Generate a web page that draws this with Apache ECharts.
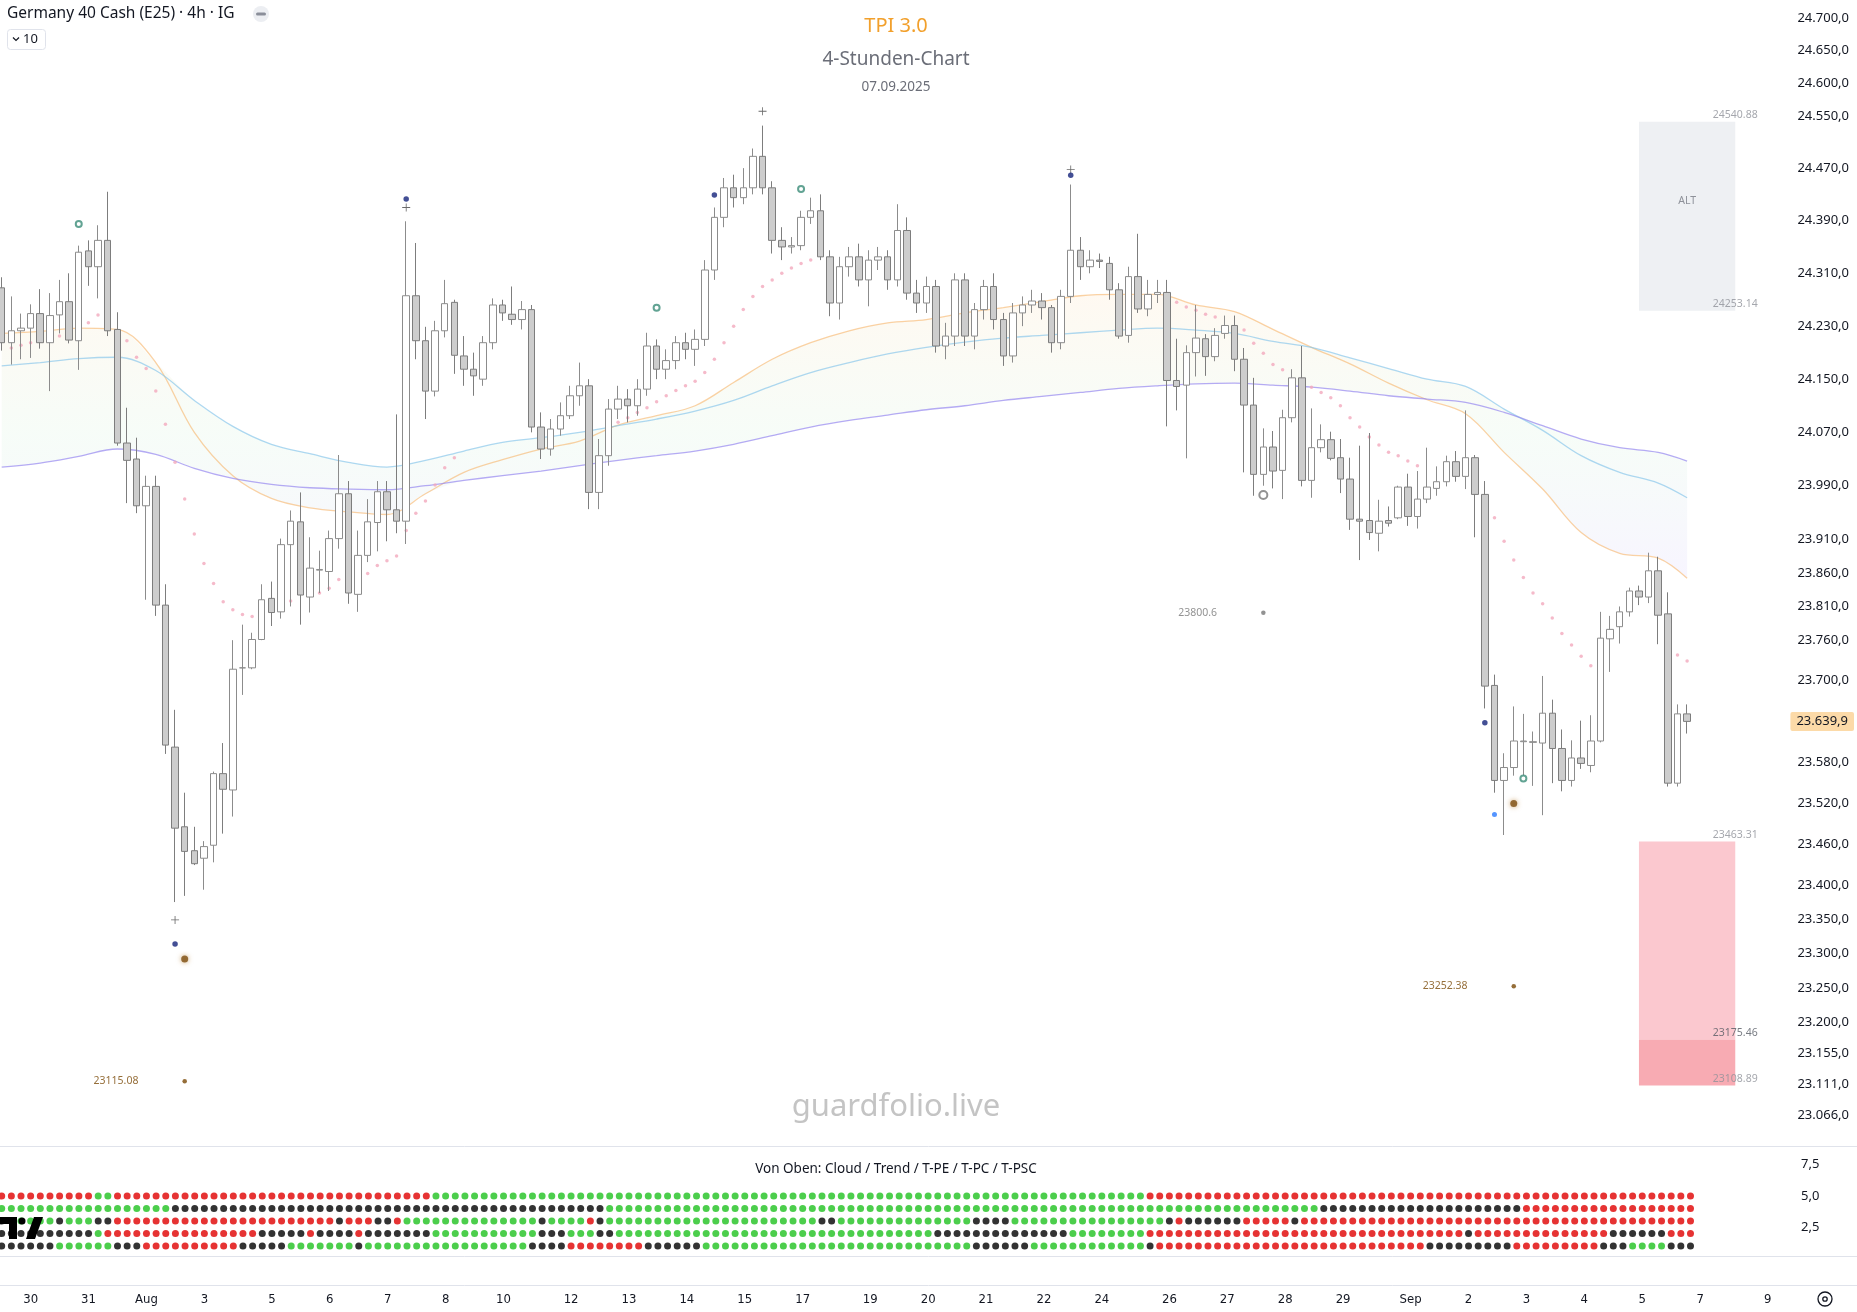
<!DOCTYPE html>
<html><head><meta charset="utf-8">
<script src="https://cdn.jsdelivr.net/npm/echarts@6/dist/echarts.min.js"></script>
<style>html,body{margin:0;padding:0;background:#fff}#c{width:1857px;height:1312px}</style>
</head><body><div id="c"></div>
<script>
// ---------- DATA ----------
const dayTicks = [[3,'30'],[9,'31'],[15,'Aug'],[21,'3'],[28,'5'],[34,'6'],[40,'7'],[46,'8'],[52,'10'],[59,'12'],[65,'13'],[71,'14'],[77,'15'],[83,'17'],[90,'19'],[96,'20'],[102,'21'],[108,'22'],[114,'24'],[121,'26'],[127,'27'],[133,'28'],[139,'29'],[146,'Sep'],[152,'2'],[158,'3'],[164,'4'],[170,'5'],[176,'7'],[183,'9']];
const barCount = 186;
// candles [open, high, low, close]
const candles = [
[24288,24304,24193,24205],[24205,24275,24172,24223],[24223,24249,24180,24227],[24227,24263,24182,24249],[24249,24286,24196,24205],
[24205,24280,24132,24246],[24247,24300,24219,24267],[24267,24310,24204,24209],[24208,24352,24164,24342],[24344,24360,24291,24320],
[24320,24383,24272,24360],[24360,24434,24215,24223],[24225,24251,24050,24054],[24054,24107,23964,24028],[24030,24062,23949,23960],
[23960,24005,23820,23989],[23989,24005,23796,23812],[23812,23843,23592,23605],[23602,23657,23375,23483],[23485,23535,23384,23449],
[23450,23485,23429,23431],[23439,23464,23393,23456],[23458,23566,23433,23563],[23563,23608,23475,23540],[23539,23760,23500,23717],
[23719,23783,23679,23719],[23719,23771,23717,23761],[23761,23843,23760,23820],[23822,23847,23781,23801],[23802,23911,23792,23902],
[23902,23953,23810,23937],[23936,23980,23783,23827],[23824,23913,23801,23867],[23864,23893,23830,23865],[23862,23923,23833,23911],
[23911,24036,23896,23978],[23978,23997,23814,23830],[23828,23923,23802,23886],[23886,23970,23876,23936],[23935,23997,23892,23981],
[23981,23997,23907,23954],[23954,24097,23919,23937],[23937,24389,23903,24276],[24276,24356,24180,24208],[24208,24229,24090,24132],
[24132,24238,24124,24223],[24223,24300,24213,24264],[24266,24270,24158,24186],[24185,24215,24140,24165],[24165,24190,24125,24155],
[24150,24215,24140,24205],[24205,24272,24195,24262],[24262,24270,24238,24250],[24248,24290,24232,24240],[24240,24268,24225,24255],
[24255,24262,24070,24078],[24078,24100,24030,24045],[24045,24090,24035,24075],[24075,24115,24065,24095],[24095,24140,24090,24125],
[24125,24175,24110,24140],[24140,24150,23955,23980],[23980,24060,23955,24035],[24035,24120,24020,24105],[24105,24140,24090,24120],
[24120,24135,24085,24110],[24110,24150,24095,24135],[24135,24220,24125,24200],[24200,24210,24150,24165],[24165,24195,24150,24178],
[24178,24215,24165,24205],[24205,24220,24180,24195],[24195,24225,24170,24210],[24210,24330,24200,24315],[24315,24410,24300,24395],
[24395,24455,24380,24440],[24440,24460,24410,24425],[24425,24470,24415,24440],[24440,24500,24430,24488],[24488,24535,24430,24440],
[24440,24450,24340,24360],[24360,24380,24330,24350],[24350,24365,24340,24352],[24352,24405,24345,24395],[24395,24425,24385,24405],
[24405,24430,24330,24335],[24335,24345,24245,24265],[24265,24335,24240,24320],[24320,24350,24305,24335],[24335,24355,24290,24300],
[24300,24345,24260,24330],[24330,24350,24315,24335],[24335,24345,24285,24300],[24300,24415,24290,24375],[24375,24395,24270,24280],
[24280,24300,24250,24265],[24265,24305,24250,24290],[24290,24300,24190,24200],[24200,24235,24180,24215],[24215,24310,24200,24300],
[24300,24310,24200,24215],[24215,24265,24195,24255],[24255,24300,24240,24290],[24290,24310,24225,24240],[24240,24250,24170,24185],
[24185,24265,24175,24250],[24250,24275,24230,24262],[24262,24285,24250,24268],[24268,24280,24240,24258],[24258,24262,24190,24205],
[24205,24285,24195,24275],[24275,24445,24265,24345],[24345,24365,24300,24320],[24320,24345,24310,24330],[24330,24340,24318,24328],
[24325,24335,24270,24285],[24285,24295,24211,24215],[24216,24320,24205,24305],[24305,24370,24250,24256],[24256,24300,24245,24278],
[24278,24300,24265,24281],[24281,24300,24079,24148],[24148,24211,24103,24139],[24141,24201,24031,24190],[24190,24262,24154,24212],
[24211,24218,24155,24184],[24184,24227,24177,24216],[24219,24246,24211,24231],[24231,24246,24162,24180],[24180,24197,24010,24111],
[24111,24152,23975,24007],[24007,24076,23990,24048],[24048,24072,23986,24012],[24013,24104,23970,24092],[24092,24165,24085,24152],
[24152,24200,23989,23998],[23998,24106,23972,24047],[24047,24082,24040,24059],[24059,24071,24028,24031],[24032,24060,23979,24000],
[24000,24032,23924,23940],[23940,24050,23879,23937],[23938,24069,23909,23920],[23919,23969,23892,23937],[23938,23959,23929,23934],
[23942,23990,23940,23988],[23988,24008,23930,23944],[23944,24012,23926,23970],[23970,24047,23964,23988],[23986,24019,23975,23996],
[23996,24035,23989,24026],[24026,24042,23996,24004],[24004,24103,23985,24032],[24032,24036,23913,23977],[23977,23997,23659,23692],
[23693,23709,23535,23553],[23553,23593,23473,23572],[23572,23662,23560,23611],[23610,23651,23560,23611],[23609,23625,23545,23610],
[23608,23707,23502,23652],[23652,23672,23549,23600],[23600,23628,23537,23553],[23553,23612,23544,23586],[23586,23641,23570,23578],
[23575,23649,23565,23611],[23611,23802,23609,23763],[23762,23796,23713,23776],[23780,23810,23755,23802],[23802,23838,23795,23833],
[23833,23841,23812,23824],[23824,23890,23815,23863],[23863,23884,23754,23797],[23799,23831,23544,23549],[23549,23665,23544,23651],
[23651,23665,23622,23639.9]
];
const lastPrice = 23639.9;
const priceTicks = [24700,24650,24600,24550,24470,24390,24310,24230,24150,24070,23990,23910,23860,23810,23760,23700,23580,23520,23460,23400,23350,23300,23250,23200,23155,23111,23066];
const priceTop = 24728, priceBottom = 23022;
const maIdx = [0,4,8,12,16,20,24,28,32,36,40,44,48,52,56,60,64,68,72,76,80,84,88,92,96,100,104,108,112,116,120,124,128,132,136,140,144,148,152,156,160,164,168,172,175];
const maFast = [24219,24222,24227,24225,24175,24070,24005,23971,23957,23951,23947,23978,24010,24029,24045,24057,24081,24095,24110,24145,24180,24205,24223,24235,24240,24250,24258,24267,24276,24278,24278,24262,24252,24225,24198,24173,24144,24119,24098,24040,23985,23920,23889,23882,23852];
const maMid  = [24170,24175,24181,24183,24163,24118,24079,24052,24038,24025,24018,24028,24042,24055,24062,24070,24080,24090,24102,24118,24140,24160,24175,24188,24198,24206,24212,24216,24220,24224,24227,24224,24219,24207,24198,24182,24166,24150,24139,24105,24073,24035,24010,23994,23972];
const maSlow = [24018,24024,24034,24045,24037,24016,24001,23992,23987,23985,23984,23990,23998,24005,24012,24020,24028,24035,24042,24052,24065,24078,24088,24096,24104,24110,24118,24124,24130,24136,24140,24143,24144,24141,24138,24132,24125,24120,24115,24100,24080,24060,24047,24040,24027];
const sarDots = [[1,24197],[2,24201],[3,24205],[4,24207],[5,24211],[6,24215],[7,24213],[9,24235],[10,24247],[11,24243],
[13,24208],[14,24183],[15,24166],[16,24132],[17,24082],[18,24025],[19,23970],[20,23918],[21,23874],[22,23844],[23,23817],[24,23805],[25,23798],[26,23795],
[30,23818],[33,23830],[34,23837],[35,23850],[36,23847],[38,23859],[39,23871],[40,23878],[41,23885],[42,23923],[43,23949],[44,23967],[45,23991],[46,24017],[47,24032],
[64,24085],[65,24092],[66,24100],[67,24107],[68,24116],[69,24125],[70,24133],[71,24140],[72,24147],
[73,24160],[74,24180],[75,24205],[76,24230],[77,24255],[78,24275],[79,24290],[80,24300],[81,24310],[82,24318],[83,24325],[84,24330],
[122,24266],[123,24259],[124,24254],[125,24248],[126,24244],[129,24224],[130,24204],[131,24189],[132,24172],[133,24164],[136,24138],[137,24130],[138,24122],[139,24110],[140,24092],[141,24078],[142,24063],[143,24051],[144,24040],[145,24035],[146,24027],[147,24020],
[155,23942],[156,23907],[157,23879],[158,23853],[159,23830],[160,23814],[161,23793],[162,23770],[163,23753],[164,23736],[165,23722],[174,23738],[175,23729]];
const crossMarks = [[18,23349],[42,24410],[79,24557],[111,24468]];
const navyDots = [[18,23314],[42,24423],[74,24429],[111,24459],[154,23638]];
const tealRings = [[8,24385],[68,24258],[83,24438],[158,23556]];
const brownDots = [[19,23292],[157,23519]];
const grayRings = [[131,23976]];
const blueDots = [[155,23503]];
const pivots = [[19,23115.08,'b'],[131,23800.6,'g'],[157,23252.38,'b']];
const altZone = {from:170, to:180, top:24540.88, bottom:24253.14};
const redZone = {from:170, to:180, top:23463.31, mid:23175.46, bottom:23108.89};
const rowCloud = [['r',0,9],['g',10,11],['r',12,44],['g',45,118],['r',119,175]];
const rowTrend = [['g',0,17],['b',18,62],['g',63,136],['b',137,157],['r',158,175]];
const rowTPE = [['b',0,0],['g',1,5],['b',6,6],['g',7,9],['b',10,11],['r',12,34],['b',35,35],['r',36,38],['b',39,40],['r',41,41],['g',42,55],['b',56,56],['g',57,60],['r',61,61],['b',62,62],['g',63,84],['b',85,86],['g',87,100],['b',101,104],['g',105,120],['b',121,121],['r',122,122],['b',123,128],['r',129,133],['b',134,134],['r',135,175]];
const rowTPC = [['b',0,9],['g',10,10],['r',11,26],['b',27,31],['r',32,32],['b',33,36],['r',37,37],['b',38,44],['g',45,55],['b',56,58],['g',59,61],['b',62,63],['g',64,96],['b',97,110],['g',111,118],['r',119,151],['b',152,152],['r',153,166],['b',167,172],['r',173,175]];
const rowTPSC = [['b',0,5],['g',6,11],['b',12,14],['r',15,24],['b',25,29],['g',30,36],['b',37,37],['g',38,54],['b',55,58],['r',59,66],['b',67,72],['g',73,100],['b',101,106],['g',107,118],['b',119,119],['r',120,147],['b',148,156],['r',157,165],['b',166,168],['g',169,172],['b',173,175]];
const lowerRows = [[5,rowCloud],[4,rowTrend],[3,rowTPE],[2,rowTPC],[1,rowTPSC]];
const lowerTicks = [2.5,5,7.5];

// ---------- BUILD ----------
const L = Math.log;
const fmtPrice = p => { const s = p.toFixed(1).split('.'); return s[0].replace(/\B(?=(\d{3})+(?!\d))/g,'.') + ',' + s[1]; };
const cats = Array.from({length:barCount},(_,i)=>String(i));
const tickMap = new Map(dayTicks);
const dotColors = {r:'#e00000', g:'#1fc21f', b:'#000000'};
const lowerData = [];
lowerRows.forEach(([v, runs]) => runs.forEach(([c,a,b]) => { for (let i=a;i<=b;i++) lowerData.push({value:[i,v], itemStyle:{color:dotColors[c]}}); }));
const cloudMin = maIdx.map((k,j)=>[k, L(Math.min(maFast[j],maMid[j],maSlow[j]))]);
const cloudSpan = maIdx.map((k,j)=>[k, L(Math.max(maFast[j],maMid[j],maSlow[j])) - L(Math.min(maFast[j],maMid[j],maSlow[j]))]);
const lineOf = arr => maIdx.map((k,j)=>[k, L(arr[j])]);
const pts = arr => arr.map(([i,p])=>[i, L(p)]);
const FONT = "'Noto Sans','Open Sans',sans-serif";
const labelLevels = [[altZone.top,'#8e9199'],[altZone.bottom,'#8e9199'],[redZone.top,'#8e9199'],[redZone.mid,'#555a63'],[redZone.bottom,'#8e9199']];
const noAxis = {axisLine:{show:false}, axisTick:{show:false}, splitLine:{show:false}};

const chart = echarts.init(document.getElementById('c'), null, {renderer:'canvas'});
chart.setOption({
  animation:false,
  backgroundColor:'#ffffff',
  grid:[
    {left:1.7, right:70, top:0, height:1146},
    {left:1.7, right:70, top:1146, height:112.5},
    {left:1.7, right:70, top:1258.5, height:26.5}
  ],
  xAxis:[
    {type:'category', gridIndex:0, data:cats, boundaryGap:false, show:false},
    {type:'category', gridIndex:1, data:cats, boundaryGap:false, show:false},
    Object.assign({type:'category', gridIndex:2, data:cats, boundaryGap:false,
     axisLabel:{interval:(i)=>tickMap.has(i), formatter:(v)=>tickMap.get(+v)||'', margin:8,
       color:'#131722', fontSize:13, fontFamily:"'Liberation Sans Narrow','DejaVu Sans Condensed',sans-serif"}}, noAxis)
  ],
  yAxis:[
    Object.assign({type:'value', gridIndex:0, position:'right', min:L(priceBottom), max:L(priceTop),
     axisLabel:{customValues:priceTicks.map(L), formatter:(v)=>fmtPrice(Math.exp(v)), margin:14, color:'#131722', fontSize:13, fontFamily:FONT}}, noAxis),
    Object.assign({type:'value', gridIndex:1, position:'right', min:0, max:9,
     axisLabel:{customValues:lowerTicks, formatter:(v)=>v.toFixed(1).replace('.',','), margin:14, color:'#131722', fontSize:13, fontFamily:FONT}}, noAxis),
    Object.assign({type:'value', gridIndex:0, position:'right', min:L(priceBottom), max:L(priceTop),
     axisLabel:{customValues:[L(lastPrice)], formatter:(v)=>fmtPrice(Math.exp(v)), margin:7, color:'#131722', fontSize:13, fontFamily:FONT,
       backgroundColor:'#fcdaa8', padding:[3,6,3,6], borderRadius:2}}, noAxis),
    {type:'value', gridIndex:2, show:false, min:0, max:1}
  ],
  series:[
    {type:'line', name:'cloudBase', xAxisIndex:0, yAxisIndex:0, stack:'cloud', data:cloudMin, symbol:'none', smooth:0.35, lineStyle:{opacity:0}, silent:true, z:1},
    {type:'line', name:'cloud', xAxisIndex:0, yAxisIndex:0, stack:'cloud', data:cloudSpan, symbol:'none', smooth:0.35, lineStyle:{opacity:0}, silent:true, z:1,
     areaStyle:{color:{type:'linear',x:0,y:0,x2:0,y2:1,colorStops:[{offset:0,color:'rgba(255,205,140,0.17)'},{offset:0.5,color:'rgba(170,230,185,0.14)'},{offset:1,color:'rgba(190,170,255,0.17)'}]}}},
    {type:'line', name:'fast', xAxisIndex:0, yAxisIndex:0, data:lineOf(maFast), symbol:'none', smooth:0.35, lineStyle:{color:'rgba(246,180,105,0.6)', width:1.3}, z:2},
    {type:'line', name:'mid', xAxisIndex:0, yAxisIndex:0, data:lineOf(maMid), symbol:'none', smooth:0.35, lineStyle:{color:'rgba(140,200,235,0.7)', width:1.3}, z:2},
    {type:'line', name:'slow', xAxisIndex:0, yAxisIndex:0, data:lineOf(maSlow), symbol:'none', smooth:0.35, lineStyle:{color:'rgba(150,135,240,0.7)', width:1.3}, z:2},
    {type:'scatter', name:'sar', xAxisIndex:0, yAxisIndex:0, data:pts(sarDots), symbolSize:3.5, itemStyle:{color:'#f2a9bd'}, z:3},
    {type:'candlestick', name:'DAX', xAxisIndex:0, yAxisIndex:0, barWidth:7, z:4,
     data:candles.map(([o,h,l,c])=>[L(o),L(c),L(l),L(h)]),
     itemStyle:{color:'#ffffff', color0:'#cdcdcd', borderColor:'#8c8c8c', borderColor0:'#7d7d7d', borderWidth:1},
     markArea:{silent:true, data:[
       [{xAxis:altZone.from, yAxis:L(altZone.top), itemStyle:{color:'#eef0f3'}, label:{show:true, formatter:'ALT', position:['50%','42%'], align:'center', verticalAlign:'middle', color:'#8e9199', fontSize:10.5, fontFamily:FONT}},
        {xAxis:altZone.to, yAxis:L(altZone.bottom)}],
       [{xAxis:redZone.from, yAxis:L(redZone.top), itemStyle:{color:'#fbc8cf'}, label:{show:false}},{xAxis:redZone.to, yAxis:L(redZone.mid)}],
       [{xAxis:redZone.from, yAxis:L(redZone.mid), itemStyle:{color:'#f8abb3'}, label:{show:false}},{xAxis:redZone.to, yAxis:L(redZone.bottom)}]
     ]}},
    {type:'scatter', name:'levels', xAxisIndex:0, yAxisIndex:0, symbolSize:0, z:6,
     data:labelLevels.map(([p,col])=>({value:[altZone.to, L(p)], label:{show:true, position:'top', distance:1, formatter:p.toFixed(2), color:col, fontSize:10.5, fontFamily:FONT}}))},
    {type:'scatter', name:'pivots', xAxisIndex:0, yAxisIndex:0, z:6, symbolSize:4.5,
     data:pivots.map(([i,p,k])=>({value:[i,L(p)], itemStyle:{color:k==='b'?'#7a4a08':'#777777'},
       label:{show:true, position:'left', distance:44, formatter:String(p), color:k==='b'?'#7a4a08':'#777777', fontSize:10.5, fontFamily:FONT}}))},
    {type:'scatter', name:'cross', xAxisIndex:0, yAxisIndex:0, z:7, data:pts(crossMarks), symbol:'path://M4.5,0H5.5V4.5H10V5.5H5.5V10H4.5V5.5H0V4.5H4.5Z', symbolSize:8, itemStyle:{color:'#444'}},
    {type:'scatter', name:'navy', xAxisIndex:0, yAxisIndex:0, z:7, data:pts(navyDots), symbolSize:5.5, itemStyle:{color:'#14237a'}},
    {type:'scatter', name:'teal', xAxisIndex:0, yAxisIndex:0, z:7, data:pts(tealRings), symbol:'circle', symbolSize:6, itemStyle:{color:'#ffffff', borderColor:'#3b8c78', borderWidth:2}},
    {type:'scatter', name:'brown', xAxisIndex:0, yAxisIndex:0, z:7, data:pts(brownDots), symbolSize:7, itemStyle:{color:'#7d4e10', shadowBlur:5, shadowColor:'rgba(180,120,40,0.8)'}},
    {type:'scatter', name:'grayRing', xAxisIndex:0, yAxisIndex:0, z:7, data:pts(grayRings), symbol:'circle', symbolSize:8, itemStyle:{color:'#ffffff', borderColor:'#777', borderWidth:2}},
    {type:'scatter', name:'blue', xAxisIndex:0, yAxisIndex:0, z:7, data:pts(blueDots), symbolSize:5, itemStyle:{color:'#2a7bff'}},
    {type:'scatter', name:'rows', xAxisIndex:1, yAxisIndex:1, z:3, data:lowerData, symbolSize:7}
  ],
  graphic:[
    {type:'line', shape:{x1:0,y1:1146.5,x2:1857,y2:1146.5}, style:{stroke:'#e0e3eb', lineWidth:1}, silent:true},
    {type:'line', shape:{x1:0,y1:1256.5,x2:1857,y2:1256.5}, style:{stroke:'#e0e3eb', lineWidth:1}, silent:true},
    {type:'line', shape:{x1:0,y1:1285.5,x2:1857,y2:1285.5}, style:{stroke:'#e0e3eb', lineWidth:1}, silent:true},
    {type:'text', style:{text:'Germany 40 Cash (E25) · 4h · IG', x:7, y:14, verticalAlign:'middle', fill:'#131722', fontSize:15.5, fontFamily:FONT}},
    {type:'circle', shape:{cx:261, cy:14, r:8}, style:{fill:'#eceef2'}},
    {type:'rect', shape:{x:256, y:12.5, width:10, height:3, r:1.5}, style:{fill:'#8a8e99'}},
    {type:'rect', shape:{x:7.5, y:29.5, width:38, height:20, r:3}, style:{fill:'#fff', stroke:'#e0e3eb', lineWidth:1}},
    {type:'polyline', shape:{points:[[13,37.5],[16,40.5],[19,37.5]]}, style:{stroke:'#131722', lineWidth:1.2, fill:null}},
    {type:'text', style:{text:'10', x:23, y:39.5, verticalAlign:'middle', fill:'#131722', fontSize:13, fontFamily:FONT}},
    {type:'text', style:{text:'TPI 3.0', x:896, y:26, align:'center', verticalAlign:'middle', fill:'#f2a02c', fontSize:20, fontFamily:FONT}},
    {type:'text', style:{text:'4-Stunden-Chart', x:896, y:60, align:'center', verticalAlign:'middle', fill:'#6b6e78', fontSize:19, fontFamily:FONT}},
    {type:'text', style:{text:'07.09.2025', x:896, y:87, align:'center', verticalAlign:'middle', fill:'#6b6e78', fontSize:13.5, fontFamily:FONT}},
    {type:'text', style:{text:'guardfolio.live', x:896, y:1107, align:'center', verticalAlign:'middle', fill:'#c4c4c4', fontSize:31, fontFamily:FONT}},
    {type:'text', style:{text:'Von Oben: Cloud / Trend / T-PE / T-PC / T-PSC', x:896, y:1169, align:'center', verticalAlign:'middle', fill:'#131722', fontSize:13.5, fontFamily:FONT}},
    {type:'rect', shape:{x:0, y:1217, width:17, height:7}, style:{fill:'#000'}, z:100},
    {type:'rect', shape:{x:9, y:1217, width:8, height:22}, style:{fill:'#000'}, z:100},
    {type:'circle', shape:{cx:22, cy:1221, r:3.5}, style:{fill:'#000'}, z:100},
    {type:'polygon', shape:{points:[[26,1239],[34,1217],[43,1217],[35,1239]]}, style:{fill:'#000'}, z:100},
    {type:'circle', shape:{cx:1825, cy:1299, r:7}, style:{fill:null, stroke:'#131722', lineWidth:1.3}},
    {type:'circle', shape:{cx:1825, cy:1299, r:2.2}, style:{fill:null, stroke:'#131722', lineWidth:1.3}}
  ]
});
</script>
</body></html>
